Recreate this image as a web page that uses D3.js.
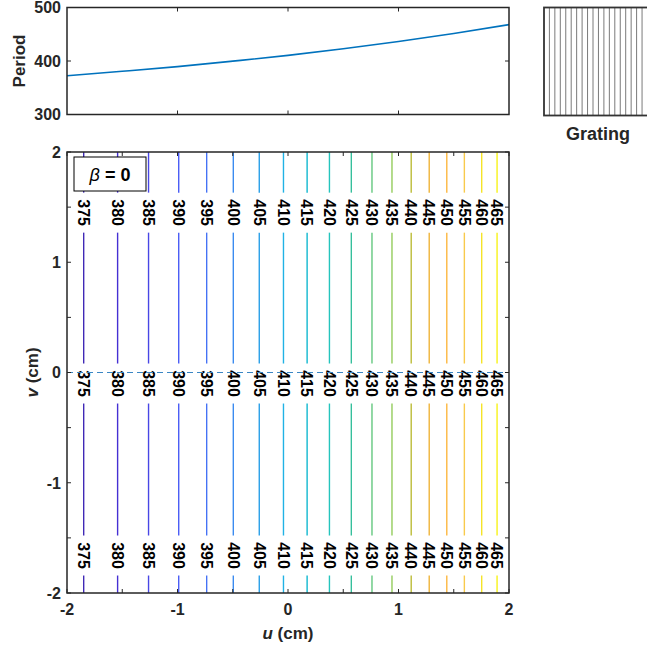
<!DOCTYPE html>
<html>
<head>
<meta charset="utf-8">
<script src="https://cdn.jsdelivr.net/npm/d3@7"></script>
<style>
  body { margin: 0; background: #fff; }
  text { font-family: "Liberation Sans", Arial, sans-serif; font-weight: bold; fill: #262626; }
</style>
</head>
<body>
<div id="chart"></div>
<script>
// contour levels and where each one sits along u (beta = 0, so lines are vertical)
const levels = [375, 380, 385, 390, 395, 400, 405, 410, 415, 420, 425, 430, 435, 440, 445, 450, 455, 460, 465];
const levelU = [-1.849, -1.542, -1.262, -0.989, -0.736, -0.495, -0.260, -0.041, 0.173, 0.375,
                0.573, 0.760, 0.941, 1.115, 1.278, 1.437, 1.596, 1.753, 1.892];
// rows (v) where MATLAB put the inline labels
const labelV = [1.45, -0.10, -1.66];

// period along v = 0
const periodU = [-2, -1.5, -1, -0.5, 0, 0.5, 1, 1.5, 2];
const periodVal = [372.5, 380.7, 389.5, 399.7, 410.5, 422.8, 436.5, 451.5, 468];

const uTicks = [-2, -1, 0, 1, 2];
const vTicks = [-2, -1, 0, 1, 2];
const periodTicks = [300, 400, 500];
const gratingCount = 20;

// parula-like colormap, anchors along 0..1
const cmapStops = [0, 0.08, 0.18, 0.24, 0.29, 0.34, 0.39, 0.445, 0.5, 0.55, 0.6, 0.655, 0.707, 0.76, 0.81, 0.865, 0.916, 1];
const cmapColors = ["#3e26a8", "#4530d4", "#4a5cf5", "#4574f5", "#3b8cf0", "#2a9fe8", "#22b2e6",
  "#10b8d0", "#26c5bc", "#36bf9c", "#62c880", "#94cc5c", "#bcbc38", "#f0b43a", "#fcb640",
  "#f8ca4c", "#f5e428", "#f9fb0e"];
const cmapT = d3.scaleLinear().domain([d3.min(periodVal), d3.max(periodVal)]).range([0, 1]);
const cmapC = d3.scaleLinear().domain(cmapStops).range(cmapColors);
const cmap = v => cmapC(cmapT(v));

const W = 647, H = 650;
const svg = d3.select("#chart").append("svg").attr("width", W).attr("height", H);

const main = {left: 67, right: 509, top: 152, bottom: 593};
const upper = {left: 67, right: 509, top: 7.5, bottom: 114.5};
const axisColor = "#262626";
const fs = "16px";

/////////////// top panel: period ///////////////
const xTop = d3.scaleLinear().domain([-2, 2]).range([upper.left, upper.right]);
const yTop = d3.scaleLinear().domain([300, 500]).range([upper.bottom, upper.top]);

const gTop = svg.append("g");
gTop.append("path")
  .datum(periodU.map((u, i) => [u, periodVal[i]]))
  .attr("fill", "none")
  .attr("stroke", "#0072bd")
  .attr("stroke-width", 1.6)
  .attr("d", d3.line().curve(d3.curveMonotoneX).x(d => xTop(d[0])).y(d => yTop(d[1])));

// ticks inward, both sides
gTop.selectAll(".xt").data(uTicks.slice(1, -1)).enter().append("g").each(function(u) {
  const g = d3.select(this);
  g.append("line").attr("x1", xTop(u)).attr("x2", xTop(u)).attr("y1", upper.bottom).attr("y2", upper.bottom - 4).attr("stroke", axisColor);
  g.append("line").attr("x1", xTop(u)).attr("x2", xTop(u)).attr("y1", upper.top).attr("y2", upper.top + 4).attr("stroke", axisColor);
});
gTop.selectAll(".yt").data(periodTicks).enter().append("g").each(function(p) {
  const g = d3.select(this);
  g.append("line").attr("x1", upper.left).attr("x2", upper.left + 4).attr("y1", yTop(p)).attr("y2", yTop(p)).attr("stroke", axisColor);
  g.append("line").attr("x1", upper.right).attr("x2", upper.right - 4).attr("y1", yTop(p)).attr("y2", yTop(p)).attr("stroke", axisColor);
  g.append("text").attr("x", upper.left - 6).attr("y", yTop(p)).attr("dy", "0.36em")
    .attr("text-anchor", "end").style("font-size", fs).text(p);
});
gTop.append("rect").attr("x", upper.left).attr("y", upper.top)
  .attr("width", upper.right - upper.left).attr("height", upper.bottom - upper.top)
  .attr("fill", "none").attr("stroke", axisColor).attr("stroke-width", 1.5);
gTop.append("text").attr("transform", `translate(25,${(upper.top + upper.bottom) / 2}) rotate(-90)`)
  .attr("text-anchor", "middle").style("font-size", "17px").text("Period");

/////////////// grating sketch ///////////////
const gr = {left: 544, top: 7.5, size: 108};
const xGr = d3.scaleLinear().domain([0, gratingCount]).range([gr.left + 5.4, gr.left + 5.4 + gratingCount * 5.45]);
const gGr = svg.append("g");
gGr.selectAll("line").data(d3.range(gratingCount)).enter().append("line")
  .attr("x1", d => xGr(d)).attr("x2", d => xGr(d))
  .attr("y1", gr.top).attr("y2", gr.top + gr.size)
  .attr("stroke", "#7a7a7a").attr("stroke-width", 1);
gGr.append("rect").attr("x", gr.left).attr("y", gr.top).attr("width", gr.size).attr("height", gr.size)
  .attr("fill", "none").attr("stroke", "#333").attr("stroke-width", 1.8);
gGr.append("text").attr("x", 598).attr("y", 140).attr("text-anchor", "middle")
  .style("font-size", "18px").text("Grating");

/////////////// main panel: contours ///////////////
const x = d3.scaleLinear().domain([-2, 2]).range([main.left, main.right]);
const y = d3.scaleLinear().domain([-2, 2]).range([main.bottom, main.top]);
const g = svg.append("g");

const labelGap = 20; // half gap in px around each label
levels.forEach((lev, i) => {
  const xp = x(levelU[i]);
  const col = cmap(lev);
  // break the line where the labels sit
  const cuts = labelV.map(v => y(v)).sort((a, b) => a - b);
  let segs = [], y0 = main.top;
  cuts.forEach(c => { segs.push([y0, c - labelGap]); y0 = c + labelGap; });
  segs.push([y0, main.bottom]);
  segs.forEach(s => {
    g.append("line").attr("x1", xp).attr("x2", xp).attr("y1", s[0]).attr("y2", s[1])
      .attr("stroke", col).attr("stroke-width", 1.4);
  });
  labelV.forEach(v => {
    g.append("text")
      .attr("transform", `translate(${xp},${y(v)}) rotate(90)`)
      .attr("text-anchor", "middle").attr("dy", "0.36em")
      .style("font-size", fs).style("fill", "#000").text(lev);
  });
});

// dashed line at v = 0
g.append("line").attr("x1", main.left).attr("x2", main.right).attr("y1", y(0)).attr("y2", y(0))
  .attr("stroke", "#3a86c4").attr("stroke-width", 1).attr("stroke-dasharray", "6,4");

// ticks
const minor = d3.range(-2, 2.01, 0.5);
minor.forEach(t => {
  g.append("line").attr("x1", x(t)).attr("x2", x(t)).attr("y1", main.bottom).attr("y2", main.bottom - 4).attr("stroke", axisColor);
  g.append("line").attr("x1", x(t)).attr("x2", x(t)).attr("y1", main.top).attr("y2", main.top + 4).attr("stroke", axisColor);
  g.append("line").attr("x1", main.left).attr("x2", main.left + 4).attr("y1", y(t)).attr("y2", y(t)).attr("stroke", axisColor);
  g.append("line").attr("x1", main.right).attr("x2", main.right - 4).attr("y1", y(t)).attr("y2", y(t)).attr("stroke", axisColor);
});
uTicks.forEach(t => {
  g.append("text").attr("x", x(t)).attr("y", main.bottom + 22).attr("text-anchor", "middle")
    .style("font-size", fs).text(t < 0 ? "-" + Math.abs(t) : t);
});
vTicks.forEach(t => {
  g.append("text").attr("x", main.left - 6).attr("y", y(t)).attr("dy", "0.36em").attr("text-anchor", "end")
    .style("font-size", fs).text(t < 0 ? "-" + Math.abs(t) : t);
});
g.append("rect").attr("x", main.left).attr("y", main.top)
  .attr("width", main.right - main.left).attr("height", main.bottom - main.top)
  .attr("fill", "none").attr("stroke", axisColor).attr("stroke-width", 1.5);

// axis labels
const xl = g.append("text").attr("x", (main.left + main.right) / 2).attr("y", 639)
  .attr("text-anchor", "middle").style("font-size", "17px");
xl.append("tspan").style("font-style", "italic").text("u");
xl.append("tspan").text(" (cm)");
const yl = g.append("text").attr("transform", `translate(38,${(main.top + main.bottom) / 2}) rotate(-90)`)
  .attr("text-anchor", "middle").style("font-size", "17px");
yl.append("tspan").style("font-style", "italic").text("v");
yl.append("tspan").text(" (cm)");

// beta annotation
g.append("rect").attr("x", 74).attr("y", 157).attr("width", 72).attr("height", 34)
  .attr("fill", "#fff").attr("stroke", "#000").attr("stroke-width", 1);
const bt = g.append("text").attr("x", 110).attr("y", 181).attr("text-anchor", "middle")
  .style("font-size", "18px").style("fill", "#000");
bt.append("tspan").style("font-style", "italic").style("font-weight", "normal").text("β");
bt.append("tspan").text(" = 0");
</script>
</body>
</html>
